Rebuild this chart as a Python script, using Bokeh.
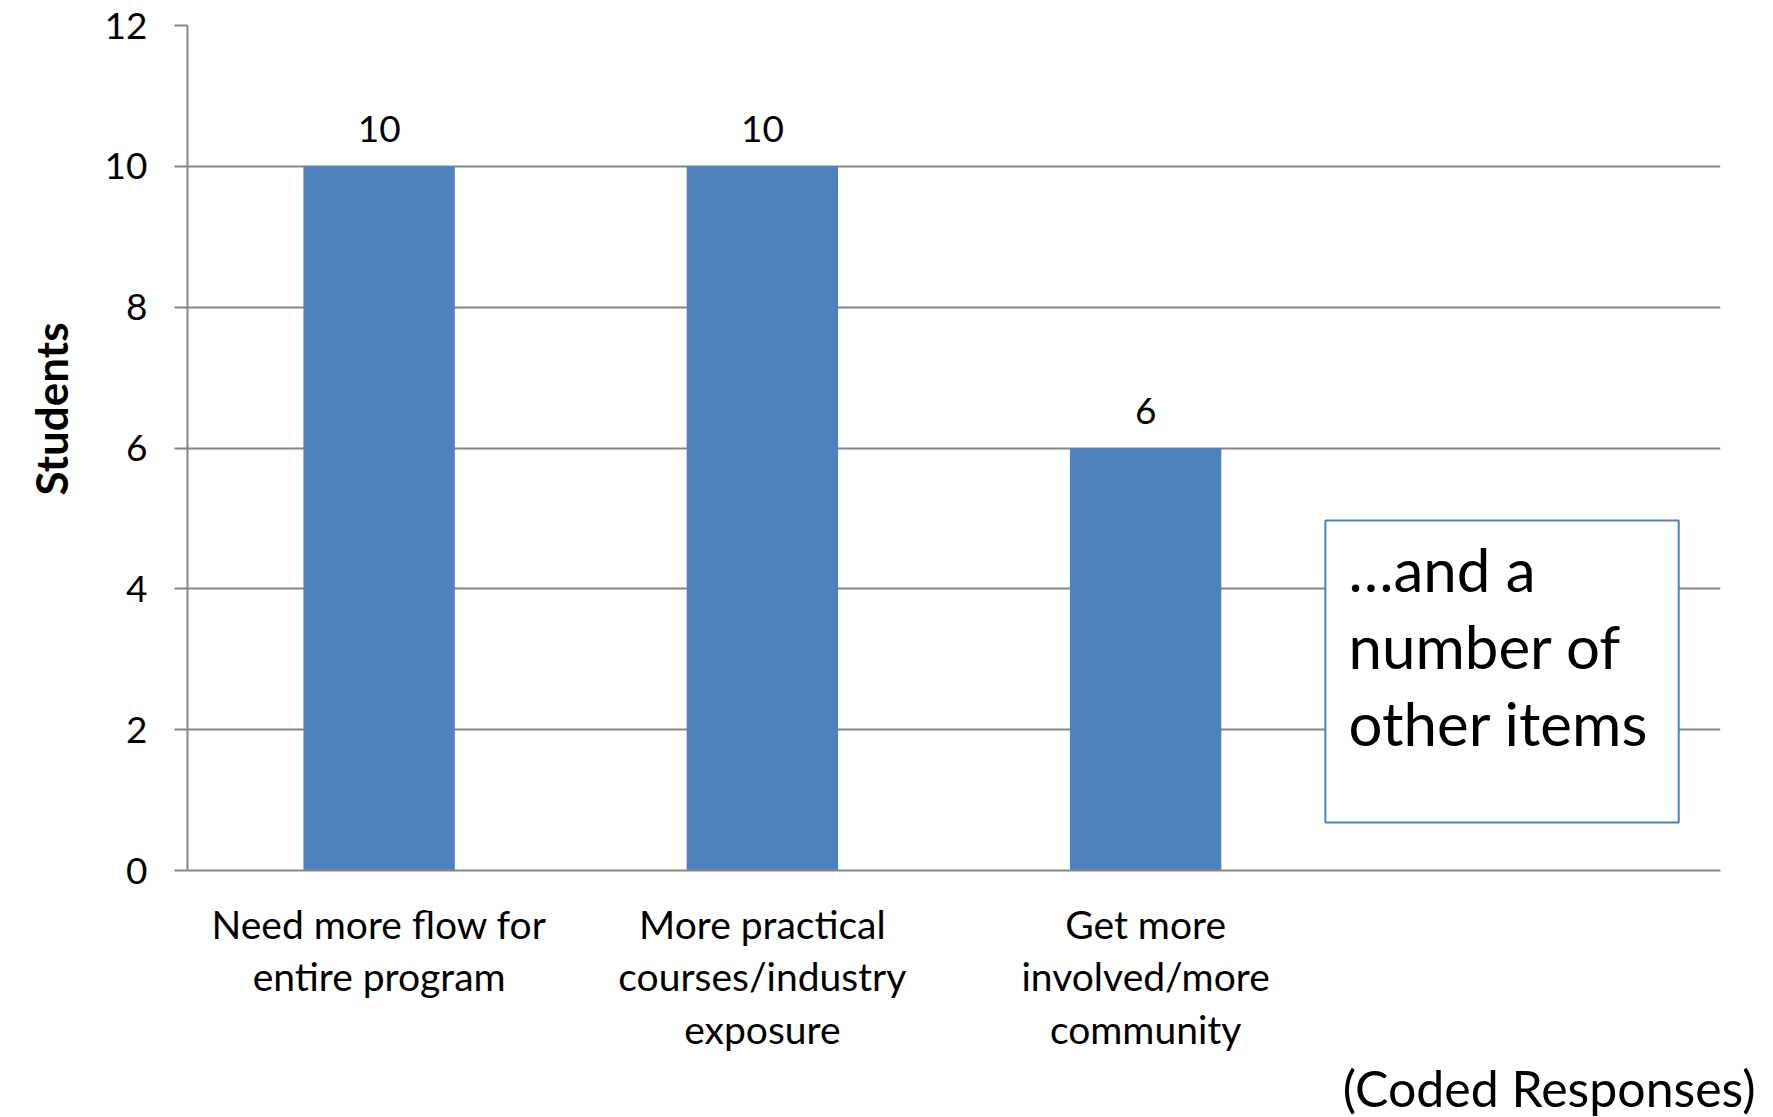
from bokeh.plotting import figure
from bokeh.models import FixedTicker, Label, BoxAnnotation, ColumnDataSource, Title
from bokeh.core.properties import value
from bokeh.embed import file_html
from bokeh.resources import INLINE

categories = ["Need more flow for\nentire program",
              "More practical\ncourses/industry\nexposure",
              "Get more\ninvolved/more\ncommunity"]
extra_slot = " "
counts = [10, 10, 6]
y_ticks = [0, 2, 4, 6, 8, 10, 12]
y_title = "Students"
x_note = "(Coded Responses)"
box_note = "…and a\nnumber of\nother items"

FONT = "Lato"
GRID = "#868686"
BAR = "#4F81BD"

p = figure(x_range=categories + [extra_slot], y_range=(0, 12),
           width=1773, height=1117, output_backend="svg", toolbar_location=None,
           min_border_left=187, min_border_right=53, min_border_top=25, min_border_bottom=245)
p.outline_line_color = None
p.background_fill_color = "white"

src = ColumnDataSource(dict(cat=categories, val=counts, lab=[str(v) for v in counts]))
p.vbar(x="cat", top="val", width=0.395, source=src, fill_color=BAR, line_color=None)
p.text(x="cat", y="val", text="lab", source=src, text_align="center", text_baseline="bottom",
       y_offset=-24, text_font=value(FONT), text_font_size="37px", text_color="black")

# axes
p.xgrid.grid_line_color = None
p.ygrid.grid_line_color = GRID
p.ygrid.grid_line_width = 2
p.yaxis.ticker = FixedTicker(ticks=y_ticks)
p.yaxis.axis_line_color = GRID
p.yaxis.axis_line_width = 2
p.yaxis.major_tick_line_color = GRID
p.yaxis.major_tick_line_width = 2
p.yaxis.major_tick_out = 13
p.yaxis.major_tick_in = 0
p.yaxis.minor_tick_line_color = None
p.yaxis.major_label_standoff = 27
p.yaxis.major_label_text_font = FONT
p.yaxis.major_label_text_font_size = "37px"
p.yaxis.major_label_text_color = "black"

p.xaxis.axis_line_color = GRID
p.xaxis.axis_line_width = 2
p.xaxis.major_tick_line_color = None
p.xaxis.minor_tick_line_color = None
p.xaxis.major_label_standoff = 24
p.xaxis.major_label_text_font = FONT
p.xaxis.major_label_text_font_size = "39px"
p.xaxis.major_label_text_color = "black"
p.xaxis.major_label_text_line_height = 1.15

# y title as a side title
p.add_layout(Title(text=y_title, align="left", offset=375, standoff=46, vertical_align="top",
                   text_font=FONT, text_font_size="44px", text_font_style="bold",
                   text_color="black"), "left")

# x note as a side title below
p.add_layout(Title(text=x_note, align="right", offset=-35, standoff=0, vertical_align="bottom",
                   text_font=FONT, text_font_size="50px", text_font_style="normal",
                   text_color="black"), "below")

# annotation box
p.add_layout(BoxAnnotation(left=2.969, right=3.891, bottom=0.68, top=4.97,
                           fill_color="white", fill_alpha=1.0,
                           line_color="#4F81BD", line_alpha=1.0, line_width=2, level="underlay"))
p.add_layout(Label(x=1161, y=4.80, x_units="screen", y_units="data", text=box_note,
                   text_align="left", text_baseline="top",
                   text_font=FONT, text_font_size="60px", text_line_height=1.07,
                   text_color="black"))

open("out.html", "w").write(file_html(p, INLINE))
